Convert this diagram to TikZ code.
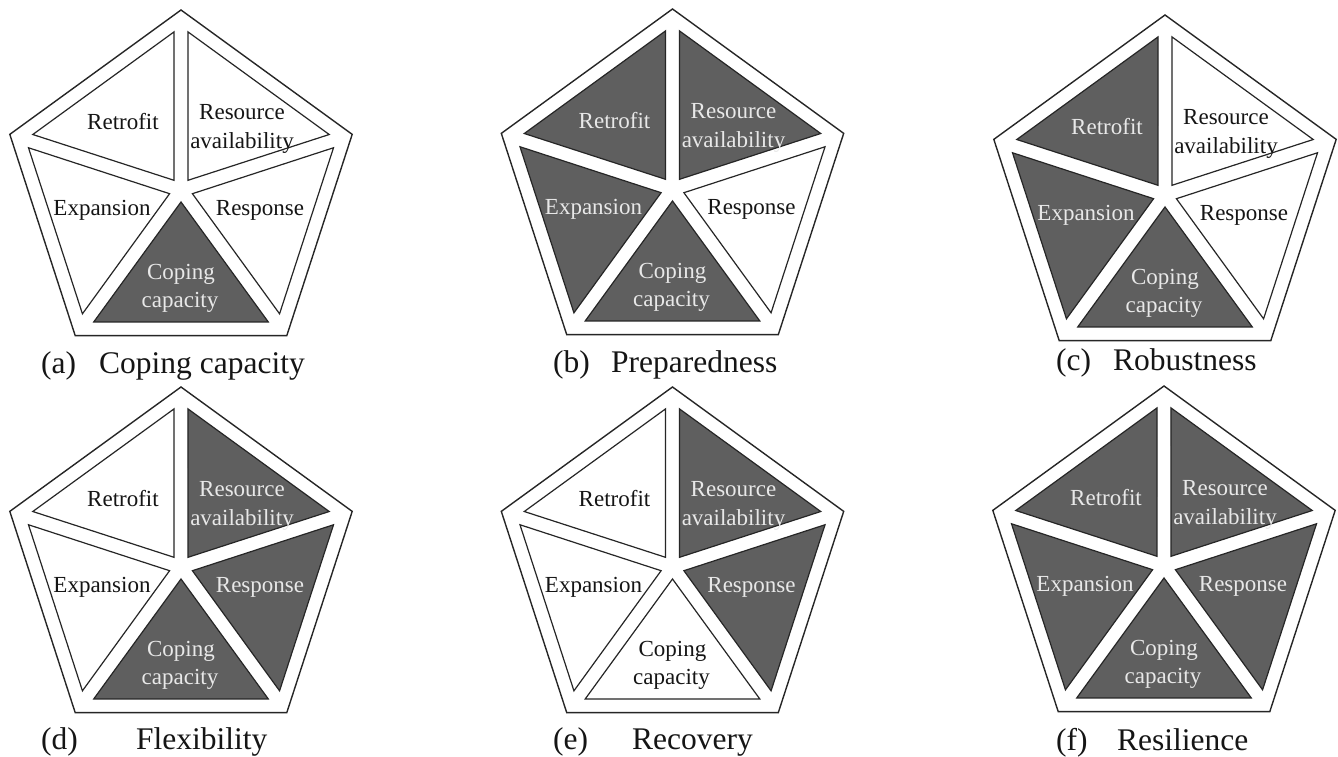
\documentclass[tikz,border=0pt]{standalone}
\usepackage{fontspec}
\setmainfont{Liberation Serif}
\definecolor{darkfill}{HTML}{5F5F5F}
\definecolor{lighttext}{HTML}{E8E8E8}
\definecolor{inktext}{HTML}{151515}
\tikzset{
  outline/.style={draw=black!85, line width=1.4pt, line join=miter},
  secD/.style={draw=black!85, fill=darkfill, line width=1.2pt, line join=miter},
  secW/.style={draw=black!85, fill=white, line width=1.2pt, line join=miter},
  labbase/.style={font=\fontsize{23}{28}\selectfont, inner sep=0pt, anchor=base},
  labD/.style={labbase, text=lighttext},
  labW/.style={labbase, text=inktext},
  captext/.style={text=inktext, font=\fontsize{31.5}{36}\selectfont, inner sep=0pt, anchor=base west}
}
\newcommand{\sectri}[2]{\begin{scope}[rotate=#1]\draw[sec#2] (0,12) -- (87.3,132) -- (-87.3,132) -- cycle;\end{scope}}
% #1 id, #2 cx, #3 cy, #4 Retrofit, #5 Resource, #6 Response, #7 Coping, #8 Expansion
\newcommand{\drawpent}[8]{%
\begin{scope}[shift={(#2,#3)}]
  \draw[outline] (90:180) -- (162:180) -- (234:180) -- (306:180) -- (18:180) -- cycle;
  \sectri{36}{#4}\sectri{-36}{#5}\sectri{252}{#6}\sectri{180}{#7}\sectri{108}{#8}
  \node[lab#4] (#1-ret) at (-58,60) {Retrofit};
  \node[lab#5] (#1-res) at (61,70) {Resource};
  \node[lab#5] (#1-ava) at (61,41) {availability};
  \node[lab#8] (#1-exp) at (-79,-26) {Expansion};
  \node[lab#6] (#1-rsp) at (79,-26) {Response};
  \node[lab#7] (#1-cop) at (0,-90) {Coping};
  \node[lab#7] (#1-cap) at (-1,-118) {capacity};
\end{scope}}
\begin{document}
\begin{tikzpicture}[x=1pt,y=1pt]
\useasboundingbox (0,0) rectangle (1338,757);
\fill[white] (0,0) rectangle (1338,757);
\drawpent{a}{181}{567}{W}{W}{W}{D}{W}
\drawpent{b}{672.5}{568}{D}{D}{W}{D}{D}
\drawpent{c}{1165}{562}{D}{W}{W}{D}{D}
\drawpent{d}{181}{190}{W}{D}{D}{D}{W}
\drawpent{e}{672.5}{190}{W}{D}{D}{W}{W}
\drawpent{f}{1164}{191}{D}{D}{D}{D}{D}
\node[captext] (capa1) at (41,383) {(a)};
\node[captext] (capa2) at (99,383) {Coping capacity};
\node[captext] (capb1) at (553,384) {(b)};
\node[captext] (capb2) at (611,384) {Preparedness};
\node[captext] (capc1) at (1056,386) {(c)};
\node[captext] (capc2) at (1113,386) {Robustness};
\node[captext] (capd1) at (41,7) {(d)};
\node[captext] (capd2) at (136,7) {Flexibility};
\node[captext] (cape1) at (553,7) {(e)};
\node[captext] (cape2) at (632,7) {Recovery};
\node[captext] (capf1) at (1056,6) {(f)};
\node[captext] (capf2) at (1117,6) {Resilience};
\end{tikzpicture}
\end{document}
